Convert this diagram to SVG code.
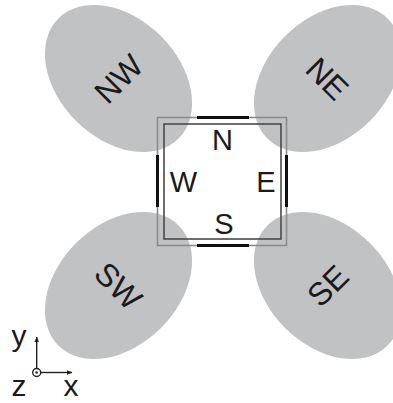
<svg xmlns="http://www.w3.org/2000/svg" width="393" height="403" viewBox="0 0 393 403">
<defs>
<style>
.lobe{fill:#c0c2c4;stroke:none}
.lbl{font-family:"Liberation Sans",Arial,sans-serif;font-size:29px;fill:#1a1a1a;text-anchor:middle}
.dg{font-size:32px}
.axl{font-size:30px}
.outer{fill:none;stroke:#8c8c8c;stroke-width:1.6}
.inner{fill:none;stroke:#4a4a4a;stroke-width:1.6}
.bar{stroke:#111;stroke-width:3;stroke-linecap:butt}
.ax{stroke:#222;stroke-width:1.4;fill:none}
</style>
<marker id="ah" viewBox="0 0 10 10" refX="9" refY="5" markerWidth="6" markerHeight="6" orient="auto" markerUnits="userSpaceOnUse">
<path d="M0,1 L10,5 L0,9 z" fill="#222"/>
</marker>
</defs>
<rect width="393" height="403" fill="#fff"/>
<g id="NW">
<ellipse class="lobe" cx="118.5" cy="78.5" rx="85" ry="60" transform="rotate(45 118.5 78.5)"/>
<text class="lbl dg" x="118.5" y="90" transform="rotate(-45 118.5 78.5)">NW</text>
</g>
<g id="NE">
<ellipse class="lobe" cx="327.5" cy="78.5" rx="85" ry="60" transform="rotate(-45 327.5 78.5)"/>
<text class="lbl dg" x="327.5" y="90" transform="rotate(45 327.5 78.5)">NE</text>
</g>
<g id="SW">
<ellipse class="lobe" cx="118.5" cy="285.5" rx="85" ry="60" transform="rotate(-45 118.5 285.5)"/>
<text class="lbl dg" x="118.5" y="297" transform="rotate(45 118.5 285.5)">SW</text>
</g>
<g id="SE">
<ellipse class="lobe" cx="327.5" cy="285.5" rx="85" ry="60" transform="rotate(45 327.5 285.5)"/>
<text class="lbl dg" x="327.5" y="297" transform="rotate(-45 327.5 285.5)">SE</text>
</g>
<g id="center">
<rect class="outer" x="157.5" y="117.5" width="129" height="128"/>
<rect class="inner" x="164" y="124" width="117" height="115"/>
<line class="bar" x1="197" y1="117.5" x2="249" y2="117.5"/>
<line class="bar" x1="197" y1="245.5" x2="249" y2="245.5"/>
<line class="bar" x1="157.5" y1="155" x2="157.5" y2="207"/>
<line class="bar" x1="286.5" y1="155" x2="286.5" y2="207"/>
<text class="lbl" x="222.5" y="149.5">N</text>
<text class="lbl" x="183.5" y="192">W</text>
<text class="lbl" x="266" y="192">E</text>
<text class="lbl" x="224" y="233.5">S</text>
</g>
<g id="axes">
<circle class="ax" cx="36.7" cy="372.5" r="4"/>
<circle cx="36.7" cy="372.5" r="1.3" fill="#222"/>
<line class="ax" x1="36.7" y1="368.5" x2="36.7" y2="337" marker-end="url(#ah)"/>
<line class="ax" x1="40.7" y1="372.5" x2="72" y2="372.5" marker-end="url(#ah)"/>
<text class="lbl axl" x="19" y="346">y</text>
<text class="lbl axl" x="19" y="396">z</text>
<text class="lbl axl" x="71" y="396">x</text>
</g>
</svg>
